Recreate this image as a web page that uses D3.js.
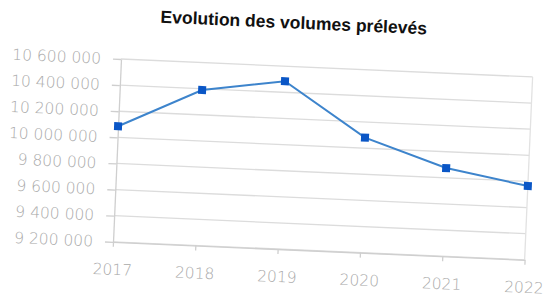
<!DOCTYPE html>
<html>
<head>
<meta charset="utf-8">
<script src="https://cdn.jsdelivr.net/npm/d3@7"></script>
<style>
  body { margin: 0; background: #fff; }
  #chart text { font-family: "DejaVu Sans", sans-serif; }
</style>
</head>
<body>
<div id="chart"></div>
<script>

var years = ["2017", "2018", "2019", "2020", "2021", "2022"];
var volumes = [10085000, 10390000, 10485000, 10080000, 9875000, 9765000];
var yTicks = [9200000, 9400000, 9600000, 9800000, 10000000, 10200000, 10400000, 10600000];
var chartTitle = "Evolution des volumes prélevés";


LineChart = function(_parentElement, _data){
    this.parentElement = _parentElement;
    this.data = _data;

    this.initVis();
}

LineChart.prototype.initVis = function() {
    var vis = this;

    vis.width = 544;
    vis.height = 297;
    vis.left = 121;
    vis.right = 533;
    vis.top = 59;
    vis.bottom = 242;

    vis.fr = d3.formatLocale({decimal: ",", thousands: " ", grouping: [3], currency: ["", " €"]});

    vis.svg = d3.select('#' + vis.parentElement)
      .append("svg")
      .attr("width", vis.width)
      .attr("height", vis.height);

    // the scanned page is slightly tilted
    vis.g = vis.svg.append("g")
      .attr("transform", "rotate(2.5," + vis.left + "," + vis.top + ")");

    vis.x = d3.scalePoint()
      .domain(years)
      .range([vis.left, vis.right])
      .padding(0);

    vis.y = d3.scaleLinear()
      .domain([d3.min(yTicks), d3.max(yTicks)])
      .range([vis.bottom, vis.top]);

    //grid
    vis.g.append("g")
      .selectAll("line")
      .data(yTicks)
      .enter()
      .append("line")
      .attr("x1", vis.left)
      .attr("x2", vis.right)
      .attr("y1", function(d) { return vis.y(d); })
      .attr("y2", function(d) { return vis.y(d); })
      .attr("stroke", "#dcdcdc")
      .attr("stroke-width", 1.3);

    vis.g.append("line")
      .attr("x1", vis.right).attr("x2", vis.right)
      .attr("y1", vis.top).attr("y2", vis.bottom)
      .attr("stroke", "#e2e2e2")
      .attr("stroke-width", 1.3);

    vis.yAxis = d3.axisLeft(vis.y)
      .tickValues(yTicks)
      .tickFormat(vis.fr.format(",d"))
      .tickSize(8)
      .tickSizeOuter(0)
      .tickPadding(12);

    vis.xAxis = d3.axisBottom(vis.x)
      .tickSize(5)
      .tickSizeOuter(0)
      .tickPadding(17);

    vis.gy = vis.g.append("g")
      .attr("transform", "translate(" + vis.left + ",0)")
      .call(vis.yAxis);

    vis.gx = vis.g.append("g")
      .attr("transform", "translate(0," + vis.bottom + ")")
      .call(vis.xAxis);

    [vis.gx, vis.gy].forEach(function(a) {
      a.select(".domain").attr("stroke", "#cfcfcf").attr("stroke-width", 1.3);
      a.selectAll(".tick line").attr("stroke", "#cfcfcf").attr("stroke-width", 1.3);
      a.selectAll(".tick text")
        .attr("fill", "#a9a9a9")
        .style("font-size", "15.5px")
        .style("font-weight", 200);
    });

    vis.line = d3.line()
      .x(function(d) { return vis.x(d.year); })
      .y(function(d) { return vis.y(d.value); });

    vis.g.append("path")
      .datum(vis.data)
      .attr("d", vis.line)
      .attr("fill", "none")
      .attr("stroke", "#3d84cc")
      .attr("stroke-width", 2);

    vis.g.append("g")
      .selectAll("rect")
      .data(vis.data)
      .enter()
      .append("rect")
      .attr("width", 8)
      .attr("height", 8)
      .attr("x", function(d) { return vis.x(d.year) - 4; })
      .attr("y", function(d) { return vis.y(d.value) - 4; })
      .attr("fill", "#0a56c6");

    vis.g.append("text")
      .attr("x", 292)
      .attr("y", 21)
      .attr("text-anchor", "middle")
      .style("font-family", "'Liberation Sans', Arial, sans-serif")
      .style("font-size", "17.5px")
      .style("font-weight", "bold")
      .attr("fill", "#111")
      .text(chartTitle);
};

var chartData = years.map(function(y, i) { return {year: y, value: volumes[i]}; });
var chart = new LineChart("chart", chartData);

</script>
</body>
</html>
